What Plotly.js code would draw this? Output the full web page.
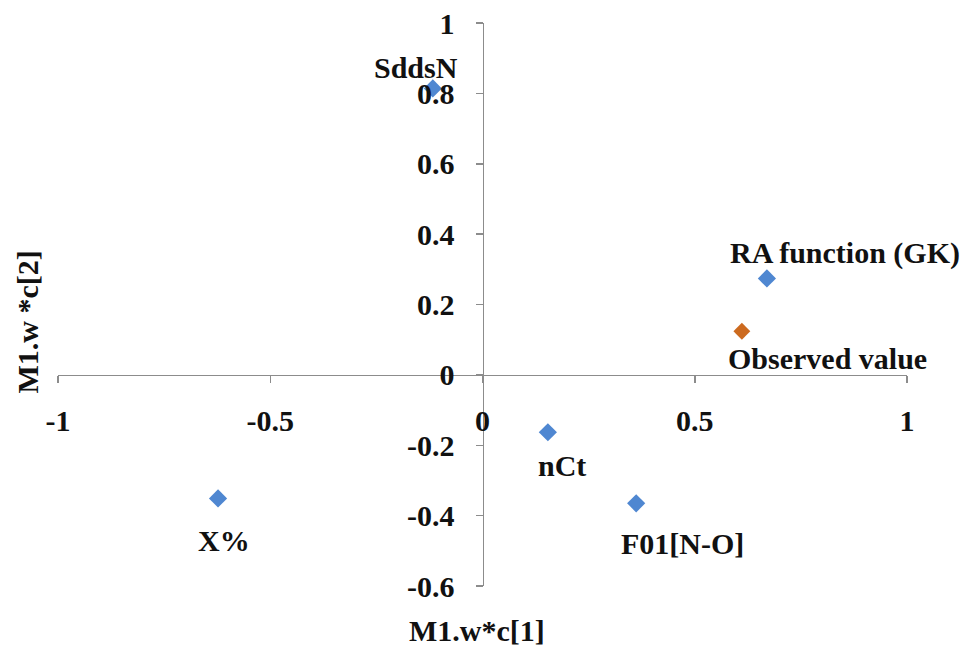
<!DOCTYPE html>
<html>
<head>
<meta charset="utf-8">
<script src="https://cdn.plot.ly/plotly-3.0.1.min.js"></script>
<style>html,body{margin:0;padding:0;background:#fff;}#chart{width:974px;height:648px;}</style>
</head>
<body>
<div id="chart"></div>
<script>
// Descriptor loadings (blue series)
var descNames = ['SddsN', 'RA function (GK)', 'nCt', 'F01[N-O]', 'X%'];
var descX = [-0.117, 0.670, 0.154, 0.362, -0.623];
var descY = [0.814, 0.274, -0.163, -0.365, -0.351];
// Observed value (orange series)
var obsNames = ['Observed value'];
var obsX = [0.611];
var obsY = [0.124];
// Axis ticks
var xTickVals = [-1, -0.5, 0, 0.5, 1];
var xTickText = ['-1', '-0.5', '0', '0.5', '1'];
var yTickVals = [-0.6, -0.4, -0.2, 0, 0.2, 0.4, 0.6, 0.8, 1];
var yTickText = ['-0.6', '-0.4', '-0.2', '0', '0.2', '0.4', '0.6', '0.8', '1'];
var xTitle = 'M1.w*c[1]';
var yTitle = 'M1.w *c[2]';

// label offsets in pixels (style, not data)
var descShift = [[-17, 21], [78, 25], [14, -33], [46, -40], [6, -42]];
var obsShift = [[86, -27]];

var FONT = 'Liberation Serif';
var fsz = 30;
var bold = function (s) { return '<b>' + s + '</b>'; };

var annotations = [];
descNames.forEach(function (n, i) {
  annotations.push({x: descX[i], y: descY[i], xref: 'x', yref: 'y', text: bold(n),
    showarrow: false, xshift: descShift[i][0], yshift: descShift[i][1],
    font: {family: FONT, size: fsz, color: '#111'}});
});
obsNames.forEach(function (n, i) {
  annotations.push({x: obsX[i], y: obsY[i], xref: 'x', yref: 'y', text: bold(n),
    showarrow: false, xshift: obsShift[i][0], yshift: obsShift[i][1],
    font: {family: FONT, size: fsz, color: '#111'}});
});
annotations.push({x: 0.5, y: 0, xref: 'paper', yref: 'paper', text: bold(xTitle),
  showarrow: false, xshift: -6, yshift: -44, yanchor: 'middle', font: {family: FONT, size: fsz, color: '#111'}});
annotations.push({x: 0, y: 0.5, xref: 'paper', yref: 'paper', text: bold(yTitle),
  showarrow: false, textangle: -90, xshift: -31, yshift: -18, xanchor: 'center', font: {family: FONT, size: fsz, color: '#111'}});

var traces = [
  {x: descX, y: descY, type: 'scatter', mode: 'markers', name: 'Descriptors',
   marker: {symbol: 'diamond', size: 14, color: '#4F87D1'}},
  {x: obsX, y: obsY, type: 'scatter', mode: 'markers', name: 'Observed',
   marker: {symbol: 'diamond', size: 13, color: '#CC6A1F'}}
];

var axisCommon = {
  showgrid: false, zeroline: false, showline: true, linecolor: '#8c8c8c', linewidth: 1.5,
  ticks: 'outside', ticklen: 7, tickcolor: '#8c8c8c', tickwidth: 1.5,
  tickfont: {family: FONT, size: fsz, color: '#111'}, tickmode: 'array'
};

var layout = {
  width: 974, height: 648,
  margin: {l: 58, r: 67, t: 23, b: 62},
  paper_bgcolor: '#fff', plot_bgcolor: '#fff',
  showlegend: false,
  font: {family: FONT},
  xaxis: Object.assign({}, axisCommon, {range: [-1, 1], tickvals: xTickVals, ticktext: xTickText.map(bold),
    anchor: 'free', position: 0.375, side: 'bottom', ticklabelstandoff: 12}),
  yaxis: Object.assign({}, axisCommon, {range: [-0.6, 1], tickvals: yTickVals, ticktext: yTickText.map(bold),
    anchor: 'free', position: 0.5, side: 'left', ticklabelstandoff: 15}),
  annotations: annotations
};

Plotly.newPlot('chart', traces, layout, {displayModeBar: false, staticPlot: true});
</script>
</body>
</html>
